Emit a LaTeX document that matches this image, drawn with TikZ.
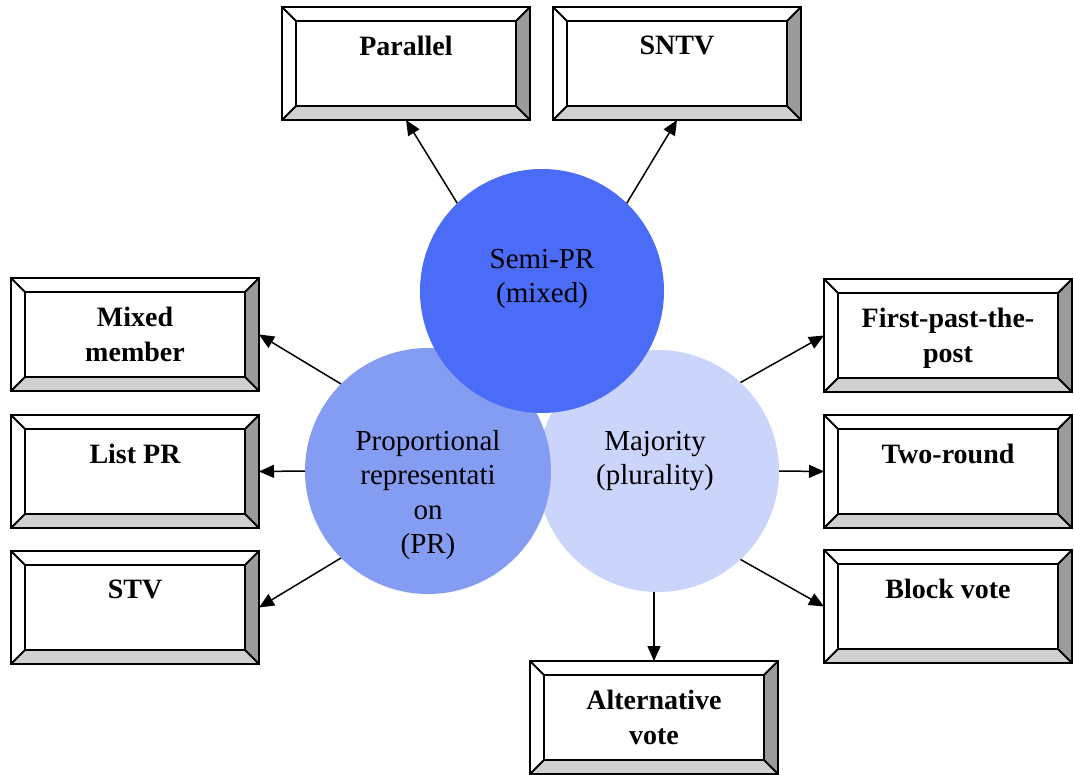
\documentclass[tikz,border=0pt]{standalone}
\usepackage{fontspec}
\setmainfont{Liberation Serif}
\usetikzlibrary{arrows.meta}
\definecolor{semic}{RGB}{74,108,246}
\definecolor{prc}{RGB}{132,157,242}
\definecolor{majc}{RGB}{203,212,250}
\definecolor{bvlight}{RGB}{208,208,208}
\definecolor{bvdark}{RGB}{155,155,155}
\tikzset{
  bxouter/.style={rectangle, fill=white, draw=none, minimum width=248pt, minimum height=113pt, inner sep=0pt, outer sep=0pt},
  bvline/.style={draw=black, line width=2pt, line join=miter},
  bxtext/.style={font=\fontsize{28}{35}\selectfont\bfseries, align=center, inner sep=0pt},
  circtext/.style={font=\fontsize{29}{34.5}\selectfont, align=center, inner sep=0pt},
  venn/.style={circle, inner sep=0pt, outer sep=0pt, draw=none},
  arr/.style={draw=black, line width=1.5pt, -{Triangle[length=15pt, width=13pt]}}
}
\newcommand\bvbox[4]{%
  \node[bxouter, anchor=north west] (#1) at (#2,#3) {};
  \fill[bvlight] (#2,{#3+113}) -- ({#2+14},{#3+99}) -- ({#2+234},{#3+99}) -- ({#2+248},{#3+113}) -- cycle;
  \fill[bvdark] ({#2+248},#3) -- ({#2+234},{#3+14}) -- ({#2+234},{#3+99}) -- ({#2+248},{#3+113}) -- cycle;
  \draw[bvline] ({#2+14},{#3+14}) rectangle ({#2+234},{#3+99});
  \draw[bvline] (#2,#3) -- ({#2+14},{#3+14}) ({#2+248},#3) -- ({#2+234},{#3+14})
     (#2,{#3+113}) -- ({#2+14},{#3+99}) ({#2+248},{#3+113}) -- ({#2+234},{#3+99});
  \draw[bvline] (#1.north west) rectangle (#1.south east);
  \node[bxtext, anchor=north] (#1-t) at ({#2+124},{#3+29}) {#4};
}
\begin{document}
\begin{tikzpicture}[x=1pt,y=-1pt]
\useasboundingbox (0,0) rectangle (1074,775);

% circles
\node[venn, fill=majc, minimum size=242pt] (maj) at (658,471) {};
\node[venn, fill=prc, minimum size=246pt] (pr) at (428,471) {};
\node[venn, fill=semic, minimum size=244pt] (semi) at (542,291) {};

\node[circtext, anchor=north] (semi-t) at (542,249) {Semi-PR\\(mixed)};
\node[circtext, anchor=north] (pr-t) at (428,430) {Proportional\\representati\\on\\(PR)};
\node[circtext, anchor=north] (maj-t) at (655,431) {Majority\\(plurality)};

% boxes
\bvbox{par}{282}{7}{Parallel}
\bvbox{sntv}{553}{7}{SNTV}
\bvbox{mm}{11}{278}{Mixed\\member}
\bvbox{lpr}{11}{415}{List PR}
\bvbox{stv}{11}{551}{STV}
\bvbox{fptp}{824}{279}{First-past-the-\\post}
\bvbox{tr}{824}{415}{Two-round}
\bvbox{bv}{824}{550}{Block vote}
\bvbox{av}{530}{661}{Alternative\\vote}

% arrows
\draw[arr] (semi.134) -- (par.south);
\draw[arr] (semi.46) -- (sntv.south);
\draw[arr] (pr.135) -- (mm.east);
\draw[arr] (pr.west) -- (lpr.east);
\draw[arr] (pr.225) -- (stv.east);
\draw[arr] (maj.47) -- (fptp.west);
\draw[arr] (maj.east) -- (tr.west);
\draw[arr] (maj.-47) -- (bv.west);
\draw[arr] (av.north |- maj.south) -- (av.north);
\end{tikzpicture}
\end{document}
